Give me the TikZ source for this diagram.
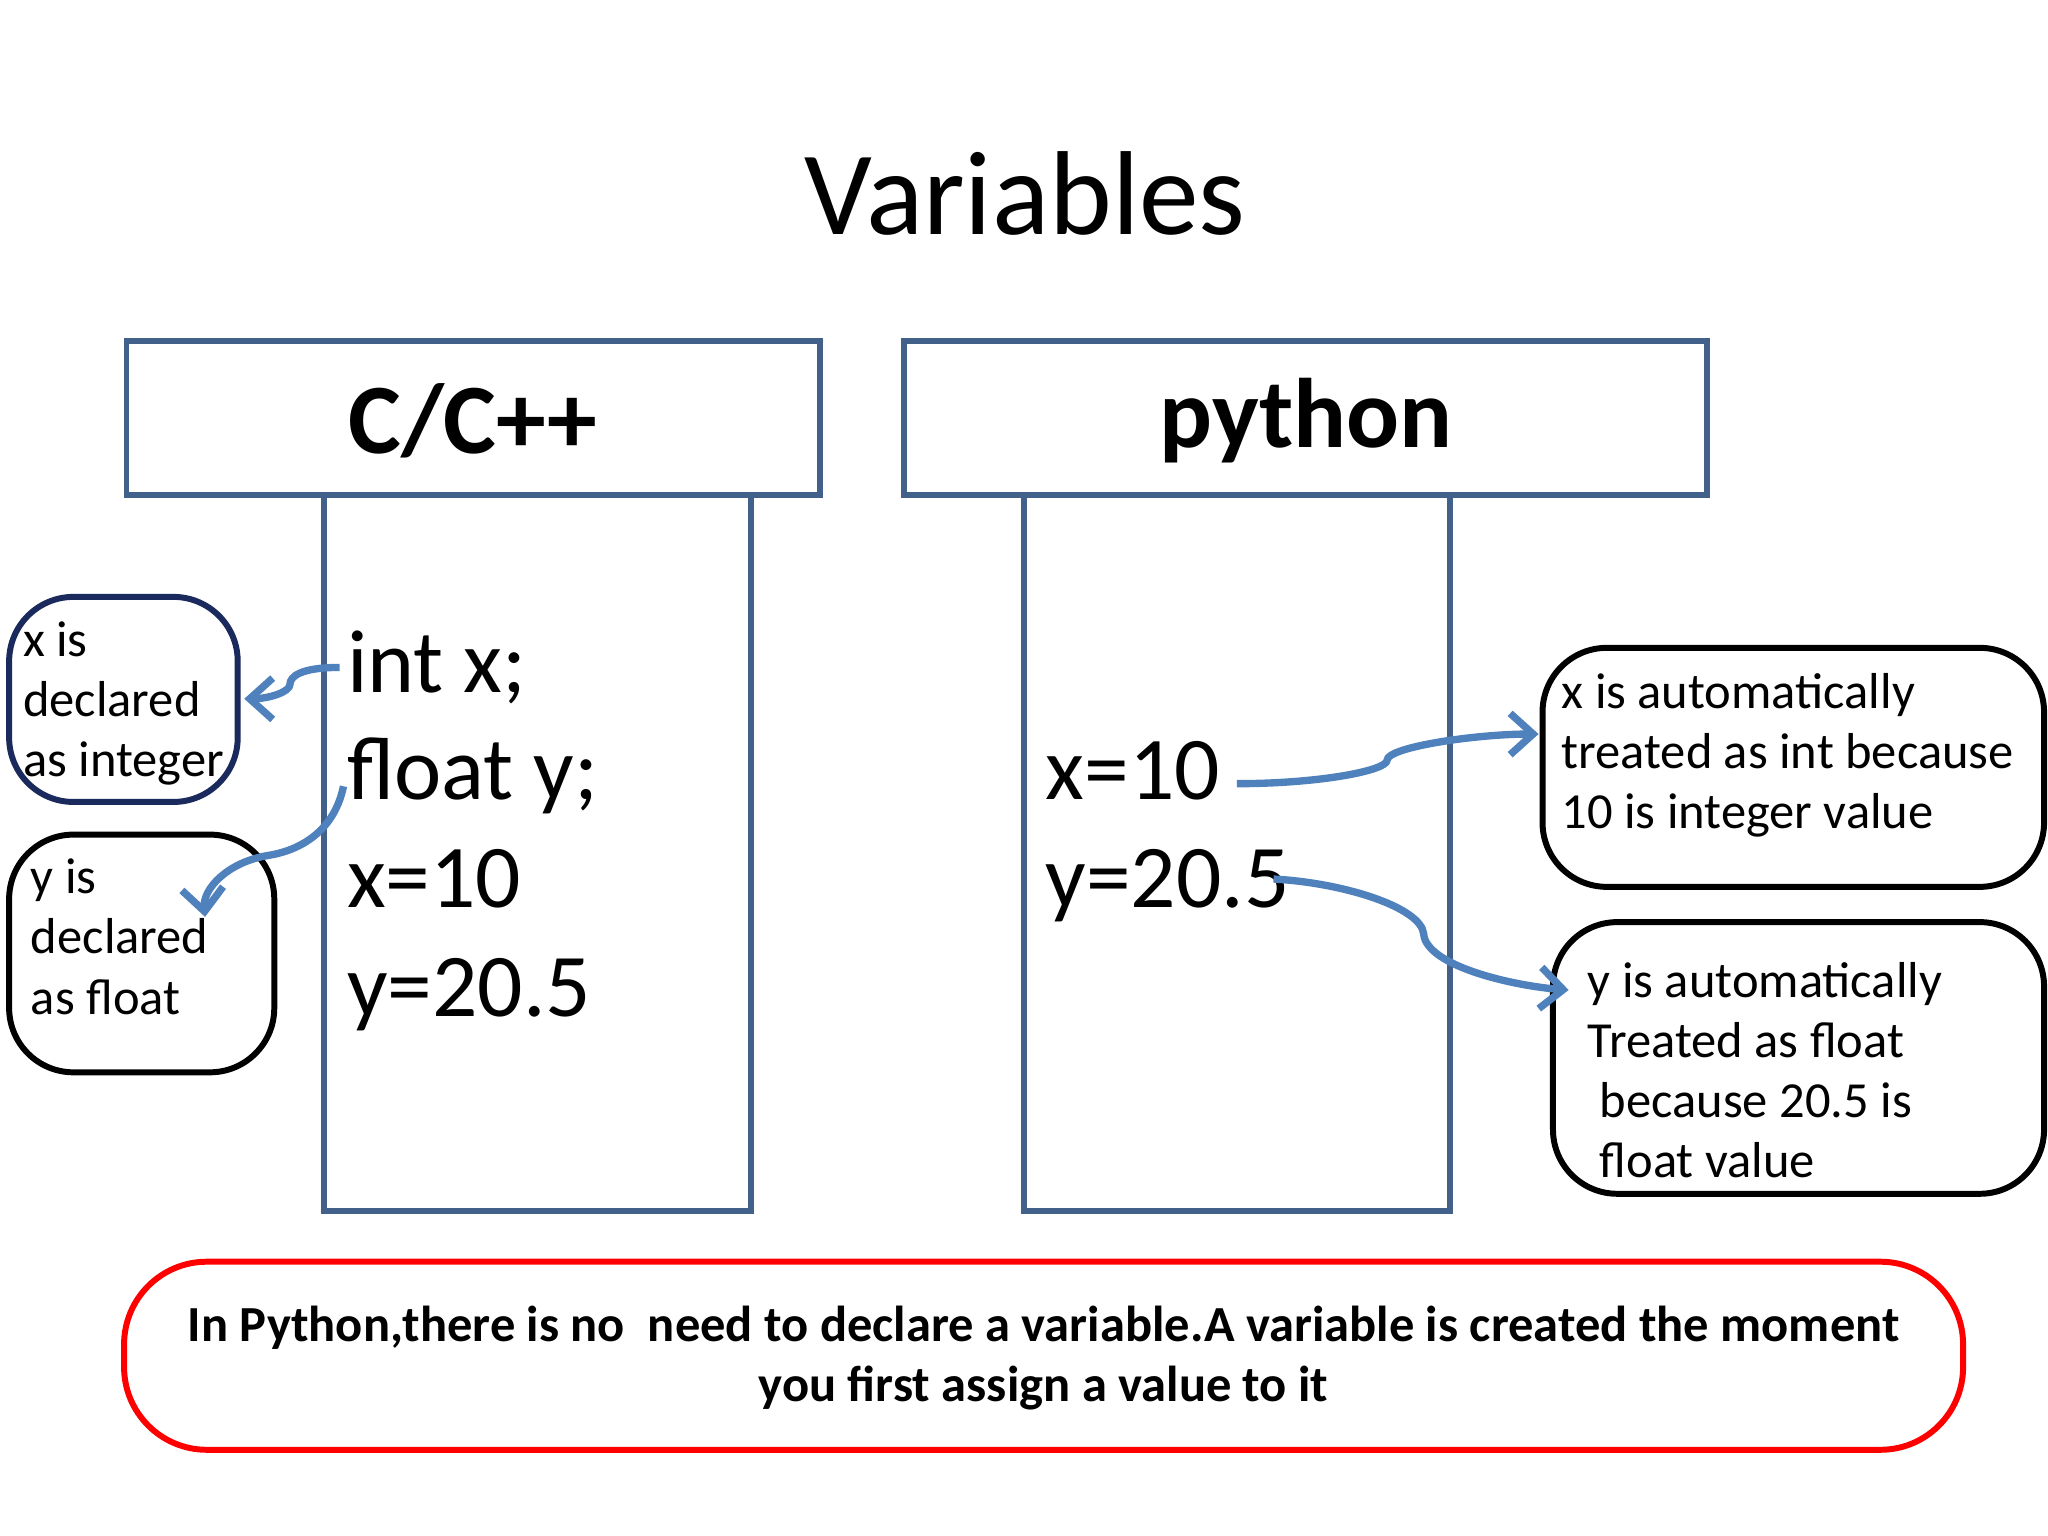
\documentclass[tikz,border=0pt]{standalone}
\usepackage{fontspec}
\setmainfont{Carlito}
\usetikzlibrary{arrows.meta}
\definecolor{hdr}{HTML}{41618A}
\definecolor{arr}{HTML}{4F81BD}
\definecolor{navy}{HTML}{1B2A5C}
\tikzset{
 colbox/.style={draw=hdr,line width=1.2pt},
 codetxt/.style={anchor=base west,inner sep=0pt,font=\fontsize{19.5}{23}\selectfont},
 notebox/.style={draw=black,line width=1.3pt,rounded corners=14pt},
 notetxt/.style={anchor=north west,inner sep=0pt,align=left,font=\fontsize{11}{13.1}\selectfont},
 conn/.style={draw=arr,line width=1.6pt,-{Straight Barb[length=5pt,width=9pt]}}
}
\begin{document}
\begin{tikzpicture}[x=0.01cm,y=-0.01cm]
\useasboundingbox (0,0) rectangle (1568,1176);
\node (title) at (785,148) {\fontsize{26}{30}\selectfont Variables};
% C column
\draw[colbox] (248,379) rectangle (575,927);
\draw[colbox] (97,261) rectangle (628,379);
\node (ct) at (362,322) {\fontsize{21.7}{25}\selectfont\bfseries C/C++};
\node[codetxt] (c1) at (265,530) {int x;};
\node[codetxt] (c2) at (265,612) {float y;};
\node[codetxt] (c3) at (265,695) {x=10};
\node[codetxt] (c4) at (265,778) {y=20.5};
% python column
\draw[colbox] (784,379) rectangle (1110,927);
\draw[colbox] (692,261) rectangle (1307,379);
\node (pt) at (1000,322) {\fontsize{21.5}{25}\selectfont\bfseries python};
\node[codetxt] (p1) at (800,612) {x=10};
\node[codetxt] (p2) at (800,695) {y=20.5};
% left notes
\draw[notebox,draw=navy] (7,457) rectangle (182,614);
\coordinate (l1) at (187,535);
\node[notetxt] (n1) at (17,475) {x is\\declared\\as integer};
\draw[notebox] (7,639) rectangle (210,821);
\coordinate (l2) at (157,702);
\node[notetxt] (n2) at (23,657) {y is\\declared\\as float};
% right notes
\draw[notebox] (1181,496) rectangle (1565,679);
\coordinate (r1) at (1178,562);
\node[notetxt] (n3) at (1195,515) {x is automatically\\treated as int because\\10 is integer value};
\draw[notebox] (1189,706) rectangle (1565,914);
\coordinate (r2) at (1201,758);
\node[notetxt] (n4) at (1215,736) {y is automatically\\Treated as float\\\hspace*{2.6pt}because 20.5 is\\\hspace*{2.6pt}float value};
% bottom
\draw[draw=red,line width=1.3pt,rounded corners=18pt] (95,966) rectangle (1503,1110);
\node[align=center,font=\fontsize{11}{13.1}\selectfont\bfseries] (bt) at (799,1040) {In Python,there is no\ \ need to declare a variable.A variable is created the moment\\you first assign a value to it};
% connectors
\coordinate (s1) at (260,511);
\coordinate (s2) at (263,602);
\coordinate (s3) at (947,600);
\coordinate (s4) at (975,673);
\draw[conn] (s1) .. controls (230,511) and (222,518) .. (222,524) .. controls (222,530) and (205,535) .. (l1);
\draw[conn] (s2) .. controls (255,640) and (225,652) .. (205,655) .. controls (175,660) and (155,680) .. (l2);
\draw[conn] (s3) .. controls (1010,600) and (1062,590) .. (1062,582) .. controls (1062,572) and (1130,562) .. (r1);
\draw[conn] (s4) .. controls (1030,676) and (1088,695) .. (1090,715) .. controls (1092,740) and (1160,755) .. (r2);
\end{tikzpicture}
\end{document}
